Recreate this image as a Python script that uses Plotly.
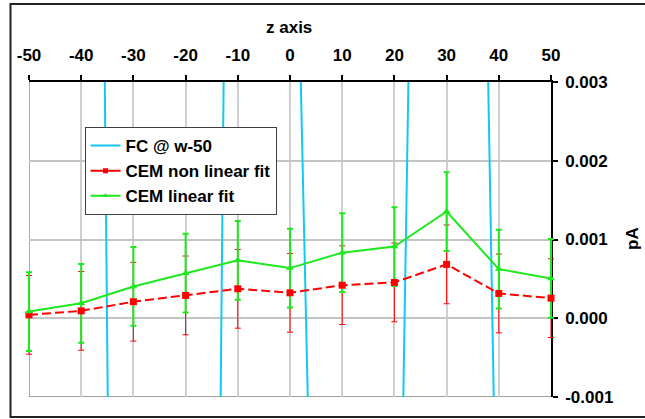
import plotly.graph_objects as go

# z positions (mm) shared by all series
z_pos = [-50, -40, -30, -20, -10, 0, 10, 20, 30, 40, 50]

# Faraday cup reference current (pA)
fc_w50 = [0.030, 0.0346, -0.0354, -0.048, 0.022, 0.0092, -0.0208, -0.008, 0.033, -0.00465, -0.012]

# CEM currents (pA) with their uncertainties
cem_nonlinear = [0.000043, 0.000094, 0.00021, 0.00029, 0.000374, 0.000323,
                 0.00042, 0.000455, 0.000684, 0.000315, 0.000255]
cem_nonlinear_err = [0.0005] * 11
cem_linear = [0.000085, 0.00019, 0.000404, 0.000573, 0.000735, 0.000637,
              0.000833, 0.00091, 0.001355, 0.000624, 0.000506]
cem_linear_err = [0.0005] * 11

x_ticks = [-50, -40, -30, -20, -10, 0, 10, 20, 30, 40, 50]
x_tick_labels = ["-50", "-40", "-30", "-20", "-10", "0", "10", "20", "30", "40", "50"]
y_ticks = [-0.001, 0.0, 0.001, 0.002, 0.003]
y_tick_labels = ["-0.001", "0.000", "0.001", "0.002", "0.003"]

FONT = "Liberation Sans, Arial, sans-serif"
CYAN = "#14C8F6"
RED = "#FF0000"
GREEN = "#1EE81E"

W, H = 645, 419
ML, MR, MT, MB = 19, 84, 82, 22
PW, PH = W - ML - MR, H - MT - MB
PAD = 10  # extra room so end-point error bars are not cut at the axes


def px_x(p):
    return (p - ML) / PW


def px_y(p):
    return (H - MB - p) / PH


x_lo, x_hi = -50, 50
unit = (PW - 2 * PAD) / (x_hi - x_lo)
x2_range = [x_lo - PAD / unit, x_hi + PAD / unit]

fig = go.Figure()

# FC curve clipped to the main plot area
fig.add_trace(go.Scatter(
    x=z_pos, y=fc_w50, mode="lines", name="FC @ w-50", showlegend=False,
    line=dict(color=CYAN, width=2),
))

# error bars first so the lines and markers sit on top
fig.add_trace(go.Scatter(
    x=z_pos, y=cem_nonlinear, mode="markers", showlegend=False, hoverinfo="skip",
    marker=dict(size=1, opacity=0), xaxis="x2", yaxis="y2",
    error_y=dict(type="data", array=cem_nonlinear_err, color=RED, thickness=1, width=3),
))
fig.add_trace(go.Scatter(
    x=z_pos, y=cem_linear, mode="markers", showlegend=False, hoverinfo="skip",
    marker=dict(size=1, opacity=0), xaxis="x2", yaxis="y2",
    error_y=dict(type="data", array=cem_linear_err, color=GREEN, thickness=2, width=3),
))
fig.add_trace(go.Scatter(
    x=z_pos, y=cem_nonlinear, mode="lines+markers", name="CEM non linear fit", showlegend=False,
    line=dict(color=RED, width=2, dash="9px,4px"), xaxis="x2", yaxis="y2",
    marker=dict(symbol="square", size=7, color=RED),
))
fig.add_trace(go.Scatter(
    x=z_pos, y=cem_linear, mode="lines+markers", name="CEM linear fit", showlegend=False,
    line=dict(color=GREEN, width=2), xaxis="x2", yaxis="y2",
    marker=dict(symbol="triangle-up", size=7, color=GREEN),
))

# legend entries (solid samples)
fig.add_trace(go.Scatter(x=[None], y=[None], mode="lines", name="FC @ w-50",
                         line=dict(color=CYAN, width=2)))
fig.add_trace(go.Scatter(x=[None], y=[None], mode="lines+markers", name="CEM non linear fit",
                         line=dict(color=RED, width=2),
                         marker=dict(symbol="square", size=5, color=RED)))
fig.add_trace(go.Scatter(x=[None], y=[None], mode="lines+markers", name="CEM linear fit",
                         line=dict(color=GREEN, width=2),
                         marker=dict(symbol="triangle-up", size=5, color=GREEN)))

tick_font = dict(family=FONT, size=17, color="#000000", weight="bold")
bold17 = dict(family=FONT, size=17, color="#000000", weight="bold")

fig.update_layout(
    width=W, height=H,
    margin=dict(l=ML, r=MR, t=MT, b=MB, autoexpand=False),
    paper_bgcolor="white", plot_bgcolor="rgba(0,0,0,0)",
    showlegend=True,
    legend=dict(
        x=px_x(84.5), y=px_y(127), xanchor="left", yanchor="top",
        bgcolor="white", bordercolor="#404040", borderwidth=1,
        font=bold17, tracegroupgap=0,
    ),
    xaxis=dict(
        domain=[PAD / PW, 1 - PAD / PW], anchor="y",
        side="top", range=[x_lo, x_hi], tickmode="array",
        tickvals=x_ticks, ticktext=x_tick_labels, tickfont=tick_font,
        showline=True, linecolor="#000000", linewidth=1.5,
        ticks="outside", ticklen=5, tickcolor="#000000", tickwidth=1.5,
        ticklabelstandoff=7,
        showgrid=True, gridcolor="#CFCFCF", gridwidth=1.5, zeroline=False,
    ),
    yaxis=dict(
        domain=[0, 1], anchor="x",
        side="right", range=[-0.001, 0.003], tickmode="array",
        tickvals=y_ticks, ticktext=y_tick_labels, tickfont=tick_font,
        showline=True, linecolor="#000000", linewidth=1.5,
        ticks="outside", ticklen=5, tickcolor="#000000", tickwidth=1.5,
        ticklabelstandoff=4,
        showgrid=True, gridcolor="#C4C4C4", gridwidth=1.5, zeroline=False,
    ),
    xaxis2=dict(domain=[0, 1], anchor="y2", range=x2_range, visible=False,
                showgrid=False, zeroline=False),
    yaxis2=dict(domain=[0, 1], anchor="x2", range=[-0.001, 0.003], visible=False,
                showgrid=False, zeroline=False),
    annotations=[
        dict(text="z axis", xref="paper", yref="paper", x=px_x(289), y=px_y(28),
             xanchor="center", yanchor="middle", showarrow=False, font=bold17),
        dict(text="pA", xref="paper", yref="paper", x=px_x(632), y=px_y(238),
             xanchor="center", yanchor="middle", showarrow=False, textangle=-90,
             font=bold17),
    ],
    shapes=[
        # grey plot-area edges on the left and bottom
        dict(type="line", xref="x", yref="y", x0=x_lo, x1=x_hi, y0=-0.001, y1=-0.001,
             line=dict(color="#808080", width=1.5), layer="below"),
        dict(type="line", xref="x", yref="y", x0=x_lo, x1=x_lo, y0=-0.001, y1=0.003,
             line=dict(color="#909090", width=1.5), layer="below"),
        # chart frame
        dict(type="rect", xref="paper", yref="paper",
             x0=px_x(10.5), x1=px_x(700), y0=px_y(417), y1=px_y(4),
             line=dict(color="#222222", width=2), fillcolor="rgba(0,0,0,0)", layer="above"),
    ],
)

fig.write_html("out.html")
